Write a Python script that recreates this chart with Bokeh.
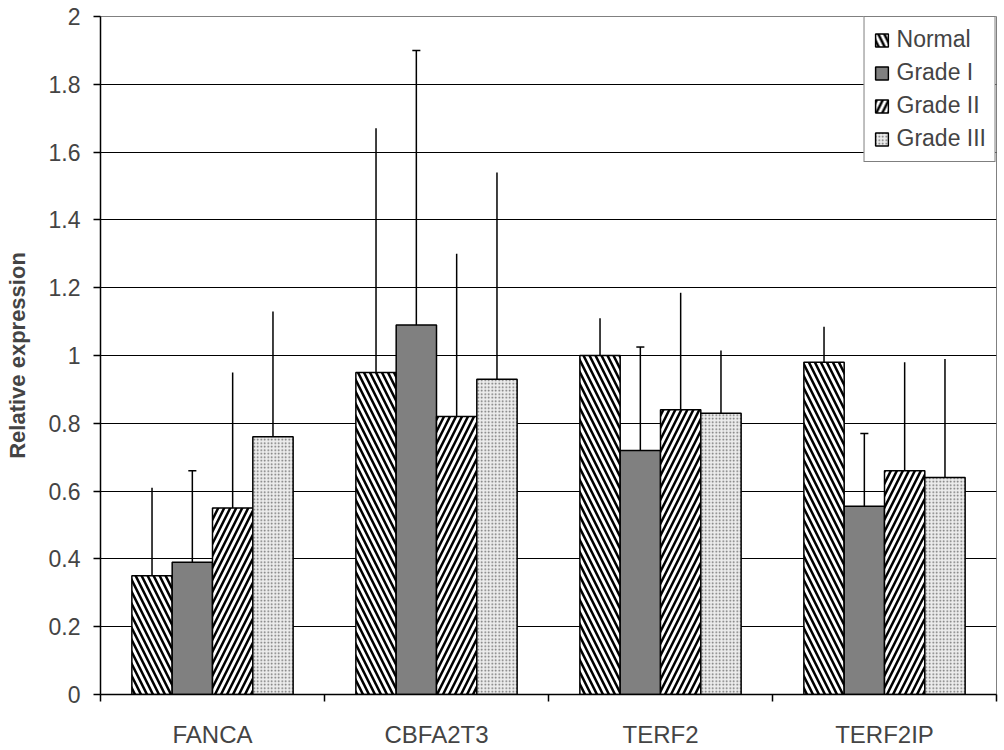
from bokeh.plotting import figure
from bokeh.models import ColumnDataSource, FixedTicker, Range1d, Legend, LegendItem, LinearAxis, Grid
from bokeh.embed import file_html
from bokeh.resources import INLINE

# ---- data ----
genes = ["FANCA", "CBFA2T3", "TERF2", "TERF2IP"]
series = ["Normal", "Grade I", "Grade II", "Grade III"]
normal = [0.35, 0.95, 1.00, 0.98]
grade1 = [0.39, 1.09, 0.72, 0.555]
grade2 = [0.55, 0.82, 0.84, 0.66]
grade3 = [0.76, 0.93, 0.83, 0.64]
err_normal = [0.26, 0.72, 0.11, 0.105]
err_grade1 = [0.27, 0.81, 0.305, 0.215]
err_grade2 = [0.40, 0.48, 0.345, 0.32]
err_grade3 = [0.37, 0.61, 0.185, 0.35]
yticks = [0, 0.2, 0.4, 0.6, 0.8, 1, 1.2, 1.4, 1.6, 1.8, 2]
ytick_labels = ["0", "0.2", "0.4", "0.6", "0.8", "1", "1.2", "1.4", "1.6", "1.8", "2"]

values = [normal, grade1, grade2, grade3]
errors = [err_normal, err_grade1, err_grade2, err_grade3]

styles = [
    dict(fill_color="white", hatch_pattern="\\", hatch_color="black", hatch_scale=12, hatch_weight=2.5),
    dict(fill_color="#808080"),
    dict(fill_color="white", hatch_pattern="/", hatch_color="black", hatch_scale=12, hatch_weight=2.5),
    dict(fill_color="#ececec", hatch_pattern="dot", hatch_color="#6a6a6a", hatch_scale=3.5, hatch_weight=1),
]

p = figure(width=998, height=750, output_backend="svg", toolbar_location=None,
           x_range=Range1d(0, 4), y_range=Range1d(0, 2),
           min_border_left=100, min_border_right=2, min_border_top=16, min_border_bottom=55,
           x_axis_type=None, y_axis_type=None)
p.background_fill_color = "white"
p.border_fill_color = "white"
p.outline_line_color = "#808080"
p.outline_line_width = 1

FONT = "Liberation Sans"

# y axis
yax = LinearAxis(ticker=FixedTicker(ticks=yticks, minor_ticks=[]))
yax.major_label_overrides = {t: l for t, l in zip(yticks, ytick_labels)}
yax.axis_label = "Relative expression"
yax.axis_label_text_font = FONT
yax.axis_label_text_font_style = "bold"
yax.axis_label_text_font_size = "22px"
yax.axis_label_standoff = 16
yax.major_label_text_font = FONT
yax.major_label_text_font_size = "23px"
yax.major_label_standoff = 13
yax.major_tick_out = 7
yax.major_tick_in = 0
yax.axis_line_color = "black"
yax.axis_line_width = 1.5
yax.major_tick_line_color = "black"
yax.major_tick_line_width = 1.5
p.add_layout(yax, "left")

# x axis (category labels at centres, ticks at boundaries)
centers = [i + 0.5 for i in range(len(genes))]
xax = LinearAxis(ticker=FixedTicker(ticks=centers, minor_ticks=list(range(len(genes) + 1))))
xax.major_label_overrides = {c: g for c, g in zip(centers, genes)}
xax.major_label_text_font = FONT
xax.major_label_text_font_size = "24px"
xax.major_label_standoff = 19
xax.major_tick_out = 0
xax.major_tick_in = 0
xax.minor_tick_out = 7
xax.minor_tick_in = 0
xax.minor_tick_line_color = "black"
xax.minor_tick_line_width = 1.5
xax.axis_line_color = "black"
xax.axis_line_width = 1.5
p.add_layout(xax, "below")

# horizontal grid lines
grid = Grid(dimension=1, ticker=FixedTicker(ticks=yticks))
grid.grid_line_color = "black"
grid.grid_line_width = 1.2
p.add_layout(grid)

bw = 0.18
items = []
for j, (name, vals, errs, st) in enumerate(zip(series, values, errors, styles)):
    xs = [c + (j - 1.5) * bw for c in centers]
    src = ColumnDataSource(dict(x=xs, top=vals,
                                hi=[v + e for v, e in zip(vals, errs)],
                                cl=[x - 0.018 for x in xs], cr=[x + 0.018 for x in xs]))
    p.segment(x0="x", y0="top", x1="x", y1="hi", source=src, line_color="black", line_width=1.5)
    if name == "Grade I":
        p.segment(x0="cl", y0="hi", x1="cr", y1="hi", source=src, line_color="black", line_width=1.5)
    r = p.vbar(x="x", top="top", bottom=0, width=bw, source=src,
               line_color="black", line_width=1.5, **st)
    items.append(LegendItem(label=name, renderers=[r]))

legend = Legend(items=items, location="top_right")
legend.margin = 0
legend.padding = 9
legend.spacing = 6
legend.label_height = 26
legend.glyph_width = 16
legend.glyph_height = 16
legend.label_standoff = 7
legend.label_text_font = FONT
legend.label_text_font_size = "23px"
legend.border_line_color = "black"
legend.border_line_width = 1.2
legend.background_fill_color = "white"
legend.background_fill_alpha = 1
p.add_layout(legend)

open("out.html", "w").write(file_html(p, INLINE))
